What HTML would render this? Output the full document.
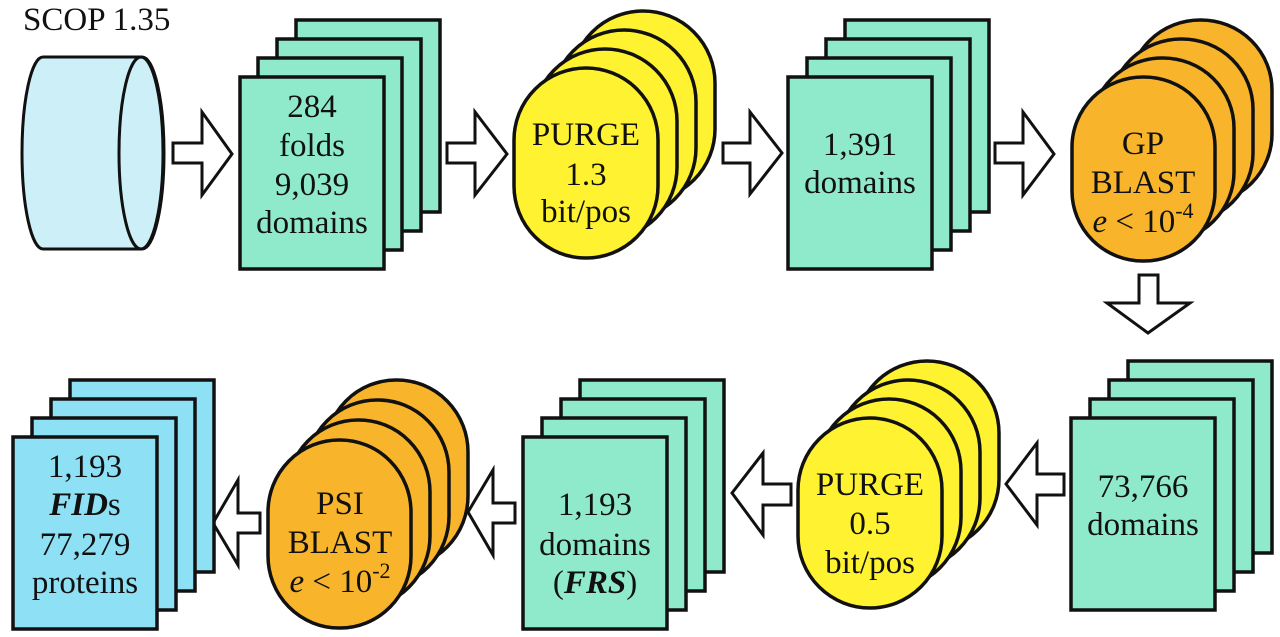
<!DOCTYPE html>
<html>
<head>
<meta charset="utf-8">
<style>
html,body{margin:0;padding:0;background:#fff;}
svg{display:block;}
svg text{font-family:"Liberation Serif","Times New Roman",serif;font-size:33px;fill:#111;}
</style>
</head>
<body>
<svg width="1280" height="637" viewBox="0 0 1280 637" xmlns="http://www.w3.org/2000/svg" font-family="Liberation Serif, Times New Roman, serif">

<!-- SCOP title -->
<text x="23" y="30" font-family="Liberation Serif, serif" font-size="33" fill="#222">SCOP 1.35</text>

<!-- Cylinder -->
<path d="M43,57 L142,57 A22,96 0 0 1 142,249 L43,249 A21,96 0 0 1 43,57 Z" fill="#cdf0f8" stroke="#111" stroke-width="3"/>
<ellipse cx="141" cy="153" rx="22" ry="96" fill="#cdf0f8" stroke="#111" stroke-width="3"/>

<!-- Arrows -->
<g fill="#fff" stroke="#111" stroke-width="3" stroke-linejoin="miter">
  <polygon points="173,143 202,143 202,112 232,154 202,195 202,163 173,163"/>
  <polygon points="447,143 475,143 475,112 507,154 475,195 475,163 447,163"/>
  <polygon points="723,143 750,143 750,112 782,153 750,194 750,163 723,163"/>
  <polygon points="995,143 1023,143 1023,112 1054,154 1023,195 1023,163 995,163"/>
  <polygon points="1139,275 1158,275 1158,303 1190,303 1148,333 1107,303 1139,303"/>
  <polygon points="1064,474 1037,474 1037,443 1006,484 1037,525 1037,495 1064,495"/>
  <polygon points="791,484 763,484 763,453 732,493 763,535 763,505 791,505"/>
  <polygon points="515,503 493,503 493,470 468,512 493,555 493,523 515,523"/>
  <polygon points="260,513 238,513 238,480 213,523 238,565 238,533 260,533"/>
</g>

<!-- Stack 1: 284 folds -->
<g fill="#8eeacb" stroke="#111" stroke-width="3.5">
  <rect x="296" y="20" width="144" height="192"/>
  <rect x="277" y="39" width="144" height="192"/>
  <rect x="258" y="58" width="144" height="192"/>
  <rect x="240" y="77" width="144" height="192"/>
</g>
<g font-family="Liberation Serif, serif" font-size="33" fill="#111" text-anchor="middle">
<text x="312" y="117">284</text>
<text x="312" y="156">folds</text>
<text x="312" y="195">9,039</text>
<text x="312" y="233">domains</text>
</g>

<!-- PURGE 1.3 -->
<g fill="#fff231" stroke="#111" stroke-width="3.5">
  <rect x="571" y="11" width="144" height="190" rx="72" ry="72"/>
  <rect x="552" y="30" width="144" height="190" rx="72" ry="72"/>
  <rect x="533" y="49" width="144" height="190" rx="72" ry="72"/>
  <rect x="514" y="68" width="144" height="190" rx="72" ry="72"/>
</g>
<g font-family="Liberation Serif, serif" font-size="33" fill="#111" text-anchor="middle">
<text x="586" y="145">PURGE</text>
<text x="586" y="185">1.3</text>
<text x="586" y="222">bit/pos</text>
</g>

<!-- Stack 2: 1,391 domains -->
<g fill="#8eeacb" stroke="#111" stroke-width="3.5">
  <rect x="845" y="20" width="144" height="192"/>
  <rect x="826" y="39" width="144" height="192"/>
  <rect x="807" y="58" width="144" height="192"/>
  <rect x="788" y="77" width="144" height="192"/>
</g>
<g font-family="Liberation Serif, serif" font-size="33" fill="#111" text-anchor="middle">
<text x="860" y="155">1,391</text>
<text x="860" y="193">domains</text>
</g>

<!-- GP BLAST -->
<g fill="#f8b52c" stroke="#111" stroke-width="3.5">
  <rect x="1129" y="20" width="143" height="184" rx="71" ry="70"/>
  <rect x="1110" y="39" width="143" height="184" rx="71" ry="70"/>
  <rect x="1091" y="58" width="143" height="184" rx="71" ry="70"/>
  <rect x="1072" y="77" width="143" height="184" rx="71" ry="70"/>
</g>
<g font-family="Liberation Serif, serif" font-size="33" fill="#111" text-anchor="middle">
<text x="1143" y="154">GP</text>
<text x="1143" y="193">BLAST</text>
<text x="1143" y="232"><tspan font-style="italic">e</tspan> &lt; 10<tspan font-size="22" dy="-14">-4</tspan></text>
</g>

<!-- Stack 73,766 -->
<g fill="#8eeacb" stroke="#111" stroke-width="3.5">
  <rect x="1128" y="361" width="144" height="192"/>
  <rect x="1109" y="380" width="144" height="192"/>
  <rect x="1090" y="399" width="144" height="192"/>
  <rect x="1071" y="418" width="144" height="192"/>
</g>
<g font-family="Liberation Serif, serif" font-size="33" fill="#111" text-anchor="middle">
<text x="1143" y="497">73,766</text>
<text x="1143" y="535">domains</text>
</g>

<!-- PURGE 0.5 -->
<g fill="#fff231" stroke="#111" stroke-width="3.5">
  <rect x="855" y="361" width="144" height="190" rx="72" ry="72"/>
  <rect x="836" y="380" width="144" height="190" rx="72" ry="72"/>
  <rect x="817" y="399" width="144" height="190" rx="72" ry="72"/>
  <rect x="798" y="418" width="144" height="190" rx="72" ry="72"/>
</g>
<g font-family="Liberation Serif, serif" font-size="33" fill="#111" text-anchor="middle">
<text x="870" y="495">PURGE</text>
<text x="870" y="534">0.5</text>
<text x="870" y="573">bit/pos</text>
</g>

<!-- Stack 1,193 domains (FRS) -->
<g fill="#8eeacb" stroke="#111" stroke-width="3.5">
  <rect x="580" y="380" width="144" height="192"/>
  <rect x="561" y="399" width="144" height="192"/>
  <rect x="542" y="418" width="144" height="192"/>
  <rect x="523" y="437" width="144" height="192"/>
</g>
<g font-family="Liberation Serif, serif" font-size="33" fill="#111" text-anchor="middle">
<text x="595" y="515">1,193</text>
<text x="595" y="555">domains</text>
<text x="595" y="593">(<tspan font-weight="bold" font-style="italic">FRS</tspan>)</text>
</g>

<!-- PSI BLAST -->
<g fill="#f8b52c" stroke="#111" stroke-width="3.5">
  <rect x="325" y="380" width="143" height="188" rx="71" ry="72"/>
  <rect x="306" y="400" width="143" height="188" rx="71" ry="72"/>
  <rect x="287" y="420" width="143" height="188" rx="71" ry="72"/>
  <rect x="268" y="440" width="143" height="188" rx="71" ry="72"/>
</g>
<g font-family="Liberation Serif, serif" font-size="33" fill="#111" text-anchor="middle">
<text x="340" y="514">PSI</text>
<text x="340" y="553">BLAST</text>
<text x="340" y="592"><tspan font-style="italic">e</tspan> &lt; 10<tspan font-size="22" dy="-14">-2</tspan></text>
</g>

<!-- FIDs stack -->
<g fill="#8ee0f4" stroke="#111" stroke-width="3.5">
  <rect x="70" y="380" width="144" height="192"/>
  <rect x="51" y="399" width="144" height="192"/>
  <rect x="32" y="418" width="144" height="192"/>
  <rect x="13" y="437" width="144" height="192"/>
</g>
<g font-family="Liberation Serif, serif" font-size="33" fill="#111" text-anchor="middle">
<text x="85" y="477">1,193</text>
<text x="85" y="515"><tspan font-weight="bold" font-style="italic">FID</tspan>s</text>
<text x="85" y="555">77,279</text>
<text x="85" y="593">proteins</text>
</g>
</svg>
</body>
</html>
